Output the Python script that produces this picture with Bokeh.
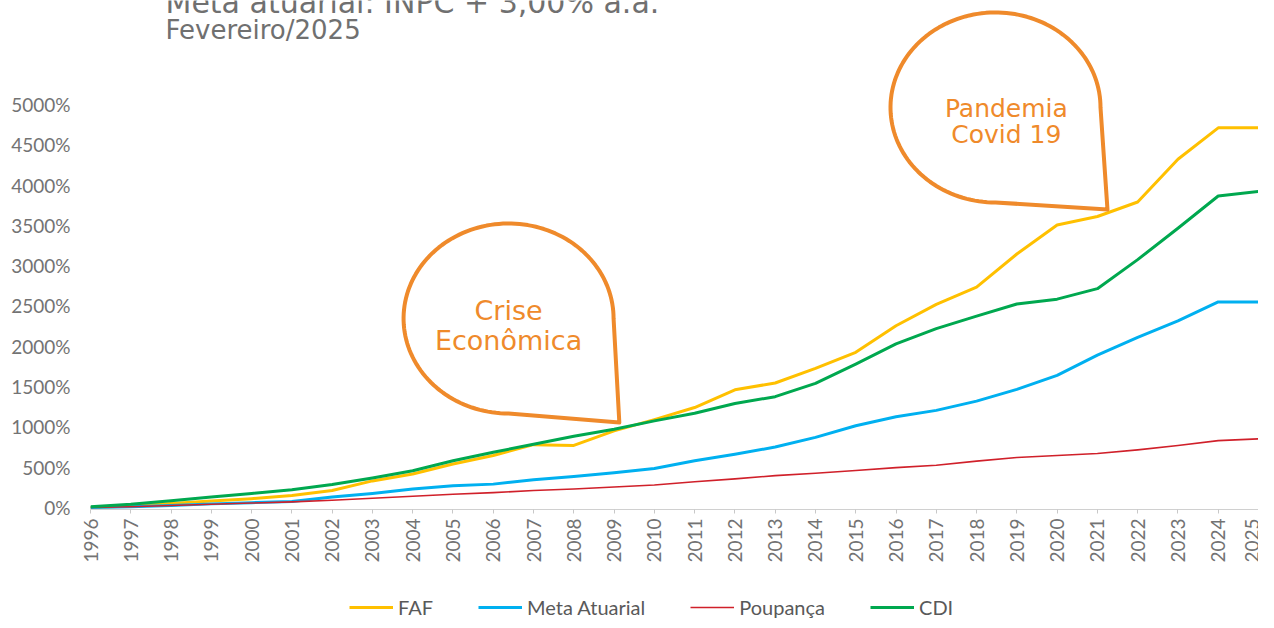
import numpy as np
from bokeh.plotting import figure
from bokeh.layouts import column
from bokeh.models import Range1d, FixedTicker, PrintfTickFormatter, Legend, LegendItem
from bokeh.core.properties import value
from bokeh.embed import file_html
from bokeh.resources import INLINE

# ---------------- data ----------------
years = list(range(1996, 2026))
faf = [0, 20, 50, 80, 110, 150, 210, 330, 415, 540, 645, 780, 770, 950, 1090,
       1240, 1460, 1545, 1725, 1925, 2255, 2520, 2735, 3145, 3505, 3610, 3790, 4320, 4710, 4710]
meta = [0, 10, 25, 45, 60, 75, 130, 175, 230, 270, 290, 345, 385, 430, 485,
        580, 660, 750, 870, 1015, 1125, 1205, 1320, 1465, 1640, 1890, 2110, 2315, 2550, 2550]
poupanca = [0, 10, 25, 40, 55, 70, 90, 115, 140, 165, 185, 210, 230, 255, 280,
            320, 355, 395, 425, 460, 495, 525, 575, 620, 645, 670, 715, 770, 830, 852]
cdi = [10, 40, 85, 130, 175, 220, 285, 365, 455, 580, 685, 785, 885, 970, 1075,
       1170, 1290, 1375, 1540, 1780, 2030, 2220, 2375, 2525, 2585, 2715, 3075, 3465, 3865, 3920]
series_names = ["FAF", "Meta Atuarial", "Poupança", "CDI"]
y_ticks = list(range(0, 5001, 500))

title_line1 = "Meta atuarial: INPC + 3,00% a.a."
title_line2 = "Fevereiro/2025"
callout1 = ["Crise", "Econômica"]
callout2 = ["Pandemia", "Covid 19"]

# ---------------- styles ----------------
colors = ["#FFC000", "#00B0F0", "#D0202A", "#00A84F"]
widths = [3, 3, 1.6, 3]
orange = "#EF8A2B"
W = 1258
H_MAIN, H_LEG = 572, 48
LEFT, BOTTOM = 90, 63
Y0, Y1 = -24.8, 6290
frame_w = W - LEFT
frame_h = H_MAIN - BOTTOM
px_x = (2025 - 1996) / frame_w      # data units per pixel
px_y = (Y1 - Y0) / frame_h

p = figure(width=W, height=H_MAIN, output_backend="svg", toolbar_location=None,
           x_range=Range1d(1996, 2025), y_range=Range1d(Y0, Y1),
           min_border_left=LEFT, min_border_right=0, min_border_top=0,
           min_border_bottom=BOTTOM)
p.outline_line_color = None
p.grid.visible = False
p.background_fill_color = "white"

for ys, c, w in zip([faf, meta, poupanca, cdi], colors, widths):
    p.line(years, ys, line_color=c, line_width=w, line_join="round")

# axes
xa = p.xaxis[0]
xa.ticker = FixedTicker(ticks=years)
xa.major_label_orientation = np.pi / 2
xa.axis_line_color = "#D0D0D0"
xa.major_tick_line_color = "#C8C8C8"
xa.major_tick_in = 0
xa.major_tick_out = 4
xa.minor_tick_line_color = None
xa.major_label_standoff = 5
xa.major_label_text_font = "Lato"
xa.major_label_text_font_size = "19px"
xa.major_label_text_color = "#737373"

ya = p.yaxis[0]
ya.ticker = FixedTicker(ticks=y_ticks)
ya.formatter = PrintfTickFormatter(format="%d%%")
ya.axis_line_color = None
ya.major_tick_line_color = None
ya.minor_tick_line_color = None
ya.major_tick_out = 0
ya.major_tick_in = 0
ya.major_label_standoff = 20
ya.major_label_text_font = "Lato"
ya.major_label_text_font_size = "19px"
ya.major_label_text_color = "#737373"

# ---------------- title ----------------
tx = 1996 + 75 * px_x
p.text([tx], [6265], text=[title_line1], text_font=value("DejaVu Sans"),
       text_font_size="30px", text_color="#707070", text_baseline="alphabetic",
       text_align="left")
p.text([tx], [5918], text=[title_line2], text_font=value("DejaVu Sans"),
       text_font_size="26px", text_color="#707070", text_baseline="alphabetic",
       text_align="left")

# ---------------- callout bubbles ----------------
def bubble(cx, cy, rx_px, ry_px, tipx, tipy):
    t = np.linspace(0, 1.5 * np.pi, 120)
    xs = list(cx + rx_px * px_x * np.cos(t))
    ys = list(cy + ry_px * px_y * np.sin(t))
    xs += [tipx, xs[0]]
    ys += [tipy, ys[0]]
    p.line(xs, ys, line_color=orange, line_width=4, line_join="round")

# Crise Econômica
c1_cx, c1_cy, c1_tipx, c1_tipy = 2006.38, 2345, 2009.13, 1055
bubble(c1_cx, c1_cy, 105, 95, c1_tipx, c1_tipy)
p.text([c1_cx, c1_cx], [c1_cy + 8 * px_y, c1_cy - 22 * px_y], text=callout1,
       text_font=value("DejaVu Sans"), text_font_size="27px", text_color=orange,
       text_align="center", text_baseline="middle")

# Pandemia Covid 19
c2_cx, c2_cy, c2_tipx, c2_tipy = 2018.47, 4963, 2021.25, 3697
bubble(c2_cx, c2_cy, 105, 95, c2_tipx, c2_tipy)
c2_tx = 2018.74
p.text([c2_tx, c2_tx], [c2_cy - 1 * px_y, c2_cy - 27 * px_y], text=callout2,
       text_font=value("DejaVu Sans"), text_font_size="25px", text_color=orange,
       text_align="center", text_baseline="middle")

# ---------------- legend (separate strip below) ----------------
lg = figure(width=W, height=H_LEG, output_backend="svg", toolbar_location=None,
            x_range=Range1d(0, 1), y_range=Range1d(0, 1),
            x_axis_location=None, y_axis_location=None,
            min_border_left=0, min_border_right=0, min_border_top=0, min_border_bottom=0)
lg.outline_line_color = None
lg.grid.visible = False
items = []
for n, c, w in zip(series_names, colors, widths):
    # renderer kept outside the visible range; it only feeds the legend swatch
    r = lg.line([-5, -4], [-5, -4], line_color=c, line_width=w)
    items.append(LegendItem(label=n, renderers=[r]))
legend = Legend(items=items, orientation="horizontal", location=(259, 1),
                padding=0, margin=0, spacing=45, glyph_width=44, glyph_height=20,
                label_height=20, label_standoff=5,
                label_text_font="Lato", label_text_font_size="20px",
                label_text_color="#595959",
                border_line_alpha=0, background_fill_alpha=0)
lg.add_layout(legend, "center")

layout = column(p, lg, spacing=0)
open("out.html", "w").write(file_html(layout, INLINE))
